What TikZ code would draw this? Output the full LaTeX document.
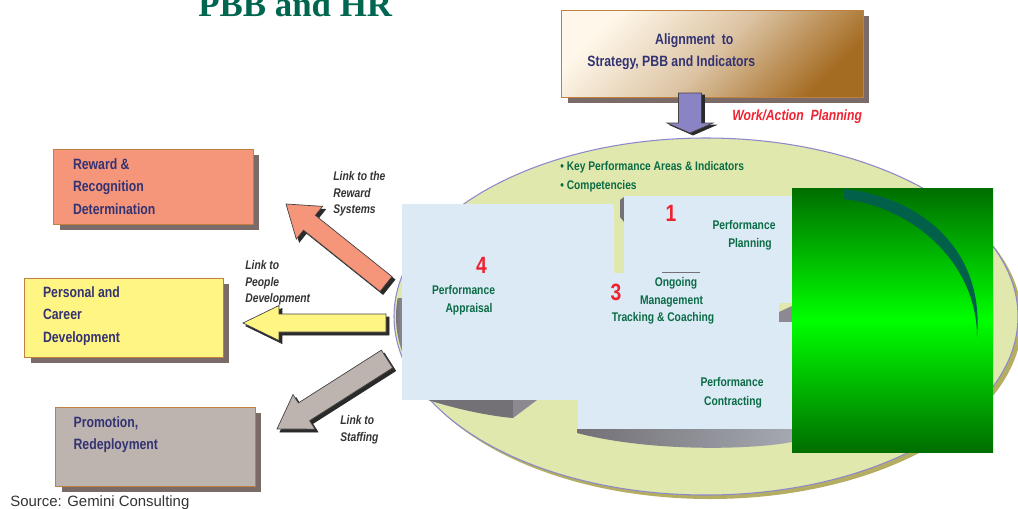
\documentclass[tikz,border=0pt]{standalone}
\usepackage{fontspec}
\setmainfont{Liberation Sans}
\newfontfamily\narrowsf[FakeStretch=0.82]{Liberation Sans}
\newfontfamily\titlerm{Liberation Serif}
\usepackage{xcolor}
\usepackage{tikz}
\usetikzlibrary{positioning,calc,shadows}

\definecolor{titlegreen}{HTML}{00664F}
\definecolor{boxnavy}{HTML}{333373}
\definecolor{labelgreen}{HTML}{0A6B45}
\definecolor{numred}{HTML}{EE2230}
\definecolor{ovalfill}{HTML}{E0E8AE}
\definecolor{ovalshadow}{HTML}{B5AD62}
\definecolor{ovalline}{HTML}{8C88CC}
\definecolor{paperblue}{HTML}{DCEAF6}
\definecolor{salmon}{HTML}{F5957A}
\definecolor{paleyellow}{HTML}{FFF582}
\definecolor{mauvegray}{HTML}{BDB3AF}
\definecolor{boxedge}{HTML}{C08040}
\definecolor{dropshadow}{HTML}{7A6A68}
\definecolor{arrowshadow}{HTML}{2A2A2A}
\definecolor{arrowline}{HTML}{444444}
\definecolor{lilac}{HTML}{8A84C4}
\definecolor{creamtop}{HTML}{FFF8EA}
\definecolor{tanmid}{HTML}{DCC4A4}
\definecolor{browntan}{HTML}{A46C22}
\definecolor{linkgray}{HTML}{333333}
\definecolor{bevdark}{HTML}{737076}
\definecolor{bevgray}{HTML}{8C8A90}
\definecolor{bevlight}{HTML}{A4A8B0}
\definecolor{greendark}{HTML}{006E00}
\definecolor{greenbright}{HTML}{00FF00}
\definecolor{arcteal}{HTML}{00604A}

\tikzset{
  hrbox/.style={draw=boxedge, line width=0.6pt, inner sep=0pt, anchor=north west,
    drop shadow={shadow xshift=0.12cm, shadow yshift=-0.1cm, fill=dropshadow, opacity=1}},
  boxtext/.style={anchor=north west, inner sep=0pt, align=left, text=boxnavy,
    font=\narrowsf\bfseries\fontsize{8.5}{12.76}\selectfont},
  linktext/.style={anchor=north west, inner sep=0pt, align=left, text=linkgray,
    font=\narrowsf\bfseries\itshape\fontsize{7.15}{9.5}\selectfont},
  steplabel/.style={anchor=base, inner sep=0pt, text=labelgreen,
    font=\narrowsf\bfseries\fontsize{7.15}{9}\selectfont},
  stepnum/.style={anchor=base, inner sep=0pt, text=numred,
    font=\narrowsf\bfseries\fontsize{13.4}{15}\selectfont},
  paper/.style={fill=paperblue},
  fatarrow/.style={draw=arrowline, line width=0.4pt, line join=miter},
}

% block arrow: tail, tip, shaft half width, head half width, head length, style
\newcommand{\blockarrow}[6]{%
  \coordinate (ba-base) at ($(#2)!#5!(#1)$);
  \filldraw[#6] ($(#1)!#3!90:(#2)$) -- ($(ba-base)!#3!90:(#2)$)
    -- ($(ba-base)!#4!90:(#2)$) -- (#2) -- ($(ba-base)!#4!-90:(#2)$)
    -- ($(ba-base)!#3!-90:(#2)$) -- ($(#1)!#3!-90:(#2)$) -- cycle;
}

\begin{document}
\begin{tikzpicture}[x=0.02cm, y=-0.02cm]
% 1 unit = 1 pixel of the 1018x508 slide
\useasboundingbox (0,0) rectangle (1018,508);
\clip (0,0) rectangle (1018,508);

% title, cut by the top edge
\node[anchor=base west, inner sep=0pt, text=titlegreen,
  font=\titlerm\bfseries\fontsize{19.85}{22}\selectfont] (title) at (198,16.5) {PBB and HR};

% the oval
\fill[ovalshadow] (710,320.5) ellipse [x radius=312, y radius=178.5];
\filldraw[fill=ovalfill, draw=ovalline, line width=0.6pt] (706,316.5) ellipse [x radius=312, y radius=178.5];

% grey bevels under the cards
\begin{scope}
  \clip (706,316.5) ellipse [x radius=310, y radius=176.5];
  \shade[left color=bevdark, right color=bevgray] (395,298) rectangle (402,372);
\end{scope}
\fill[bevdark] (428,400) .. controls (460,410) and (490,416) .. (513,418) -- (513,400) -- cycle;
\fill[bevgray] (513,400) -- (537,400) -- (513,418) -- cycle;
\shade[left color=bevdark, right color=bevlight] (577,429) -- (792,429) -- (792,442)
  .. controls (750,450) and (650,452) .. (577,433) -- cycle;
\fill[bevdark] (620,200) -- (624,197) -- (624,222) -- (620,217) -- cycle;
\fill[bevgray] (779,312) -- (792,306) -- (792,322) -- (779,322) -- cycle;
\fill[bevdark] (587,322) -- (590,300) -- (590,322) -- cycle;

% cards of the cycle
\fill[paper] (402,204) rectangle (614,400);
\fill[paper] (624,196) rectangle (792,303);
\fill[paper] (590,273) rectangle (779,322);
\fill[paper] (578,322) rectangle (792,429);
\draw[bevdark, line width=1pt] (662,272.5) -- (700,272.5);

% bullets on the oval
\node[anchor=north west, inner sep=0pt, align=left, text=labelgreen,
  font=\narrowsf\bfseries\fontsize{7.1}{10.8}\selectfont] (bullets) at (560,161)
  {• Key Performance Areas \& Indicators\\• Competencies};

% step 2 sits under the green block
\node[stepnum] (num2) at (797,363) {2};
\shade[top color=greendark, bottom color=greendark, middle color=greenbright] (792,188) rectangle (993,452);
\fill[arcteal] (844,189) .. controls (915,196) and (985,245) .. (977,337)
  .. controls (977,262) and (912,207) .. (844,199) -- cycle;

% step numbers and labels
\node[stepnum] (num1) at (671,221) {1};
\node[stepnum] (num4) at (481.5,273) {4};
\node[stepnum] (num3) at (616,300) {3};
\node[steplabel] (plan1) at (744,229) {Performance};
\node[steplabel] (plan2) at (750,247) {Planning};
\node[steplabel] (appr1) at (463.5,294.5) {Performance};
\node[steplabel] (appr2) at (469,312) {Appraisal};
\node[steplabel] (ongo1) at (676,286) {Ongoing};
\node[steplabel] (ongo2) at (671.5,304) {Management};
\node[steplabel] (ongo3) at (663,321) {Tracking \& Coaching};
\node[steplabel] (contr1) at (732,386) {Performance};
\node[steplabel] (contr2) at (733,405) {Contracting};

% HR boxes on the left
\node[hrbox, fill=salmon, minimum width=4cm, minimum height=1.5cm] (reward) at (53,149) {};
\node[boxtext] (rewardtxt) at (72.7,158) {Reward \&\\Recognition\\Determination};
\node[hrbox, fill=paleyellow, minimum width=3.98cm, minimum height=1.58cm] (career) at (24,278) {};
\node[boxtext] (careertxt) at (42.7,286) {Personal and\\Career\\Development};
\node[hrbox, fill=mauvegray, minimum width=4cm, minimum height=1.58cm] (promo) at (55,407) {};
\node[boxtext] (promotxt) at (73.3,416) {Promotion,\\Redeployment};

% links from the cycle
\coordinate (rwtail) at (386,284);
\coordinate (rwtip) at (286,204);
\coordinate (pdtail) at (386,323);
\coordinate (pdtip) at (243,323);
\coordinate (sttail) at (387,359);
\coordinate (sttip) at (277,429);
\begin{scope}[transform canvas={shift={(3,3)}}]
  \blockarrow{rwtail}{rwtip}{0.19cm}{0.42cm}{0.6cm}{fill=arrowshadow, draw=arrowshadow}
  \blockarrow{pdtail}{pdtip}{0.18cm}{0.35cm}{0.72cm}{fill=arrowshadow, draw=arrowshadow}
  \blockarrow{sttail}{sttip}{0.21cm}{0.41cm}{0.64cm}{fill=arrowshadow, draw=arrowshadow}
\end{scope}
\blockarrow{rwtail}{rwtip}{0.19cm}{0.42cm}{0.6cm}{fatarrow, fill=salmon}
\blockarrow{pdtail}{pdtip}{0.18cm}{0.35cm}{0.72cm}{fatarrow, fill=paleyellow}
\blockarrow{sttail}{sttip}{0.21cm}{0.41cm}{0.64cm}{fatarrow, fill=mauvegray}

\node[linktext] (rwlink) at (333,171) {Link to the\\Reward\\Systems};
\node[linktext] (pdlink) at (245,260) {Link to\\People\\Development};
\node[linktext] (stlink) at (340,415) {Link to\\Staffing};

% alignment box and its arrow
\node[hrbox, top color=creamtop, bottom color=browntan, middle color=tanmid, shading angle=45,
  minimum width=6.04cm, minimum height=1.74cm] (align) at (561,10) {};
\node[boxtext] (aligntxt) at (587,33) {\hspace*{38.6pt}Alignment\ \ to\\[-0.3pt]Strategy, PBB and Indicators};
\coordinate (altail) at (690,93);
\coordinate (altip) at (690,133);
\begin{scope}[transform canvas={shift={(3,2)}}]
  \blockarrow{altail}{altip}{0.23cm}{0.46cm}{0.2cm}{fill=arrowshadow, draw=arrowshadow}
\end{scope}
\blockarrow{altail}{altip}{0.23cm}{0.46cm}{0.2cm}{fatarrow, fill=lilac}
\node[anchor=base west, inner sep=0pt, text=numred,
  font=\narrowsf\bfseries\itshape\fontsize{8.45}{10}\selectfont] (workplan) at (732,120.7) {Work/Action\ \ Planning};

% source line, cut by the bottom edge
\node[anchor=base west, inner sep=0pt, text=linkgray, font=\fontsize{8.5}{10}\selectfont] (source) at (10,506.5) {Source: Gemini Consulting};
\end{tikzpicture}
\end{document}
